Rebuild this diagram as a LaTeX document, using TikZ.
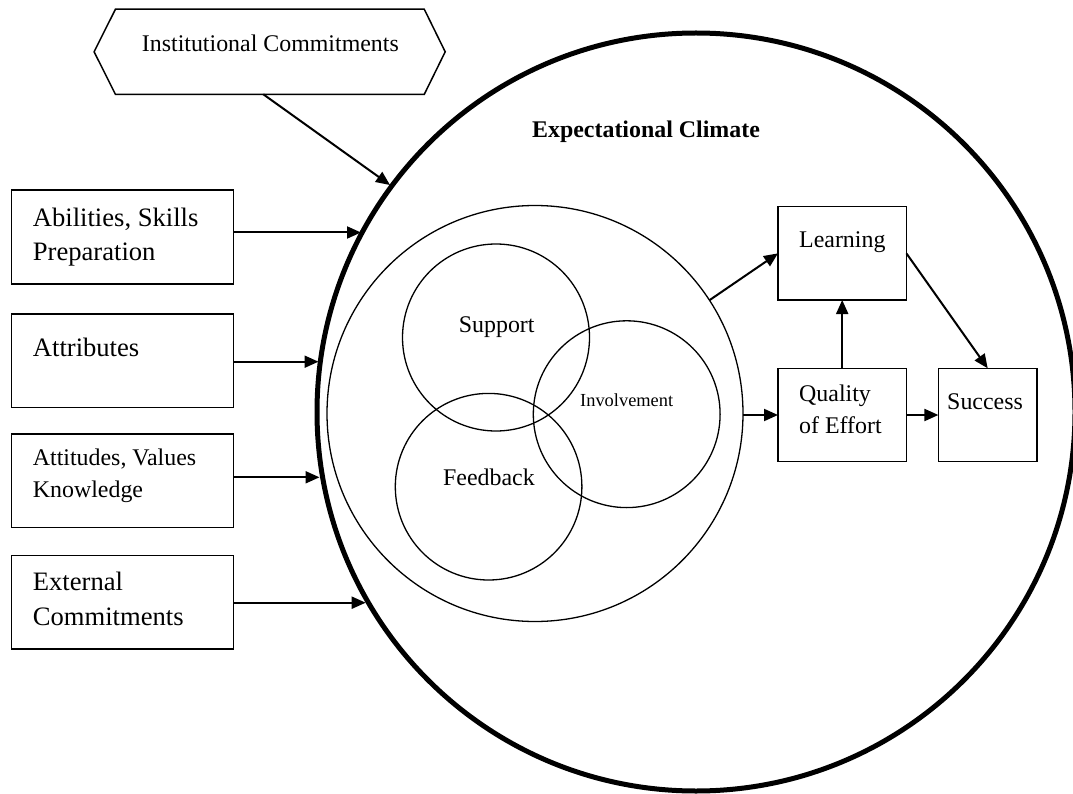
\documentclass[tikz,border=0pt]{standalone}
\usepackage{fontspec}
\setmainfont{Liberation Serif}
\usetikzlibrary{arrows.meta,calc,fit}
\begin{document}
\begin{tikzpicture}[x=1pt,y=-1pt,
  box/.style={draw, line width=1.5pt, inner sep=0pt, outer sep=0pt},
  ring/.style={draw, circle, line width=1.3pt, inner sep=0pt, outer sep=0pt},
  txt/.style={inner sep=0pt, anchor=base west, font=\fontsize{23.9}{30}\selectfont},
  txtL/.style={txt, font=\fontsize{26.6}{34}\selectfont},
  txtS/.style={txt, font=\fontsize{18.4}{22}\selectfont},
  arr/.style={line width=2pt, -{Triangle[length=14pt,width=12pt]}}]
\useasboundingbox (0,0) rectangle (1073,794);
\fill[white] (0,0) rectangle (1073,794);

% big circle
\node[draw, circle, line width=5pt, minimum size=758pt, inner sep=0pt, outer sep=0pt] (big) at (696,412) {};
% inner circle
\node[ring, minimum size=416pt] (inner) at (535,413.5) {};
\node[ring, minimum size=187pt] (supp) at (496,337.5) {};
\node[ring, minimum size=186.6pt] (feed) at (488.6,486.7) {};
\node[ring, minimum size=186.8pt] (inv) at (626.7,414.2) {};

% hexagon
\node[inner sep=0pt, fit={(94.3,9.3) (445,94.3)}] (inst) {};
\draw[line width=1.5pt] (inst.west) -- ($(inst.north west)+(21.4,0)$) -- ($(inst.north east)+(-21,0)$)
  -- (inst.east) -- ($(inst.south east)+(-21,0)$) -- ($(inst.south west)+(21.4,0)$) -- cycle;

% boxes
\node[box, fit={(11.7,190) (233.3,284)}] (abil) {};
\node[box, fit={(11.7,314) (233.3,407.7)}] (attr) {};
\node[box, fit={(11.7,434) (233.3,527.3)}] (atti) {};
\node[box, fit={(11.7,555.3) (233.3,649)}] (ext) {};
\node[box, fit={(778,206.7) (906.4,300)}] (learn) {};
\node[box, fit={(778,368.3) (906.4,461.7)}] (qual) {};
\node[box, fit={(938.4,368.3) (1037,461.7)}] (succ) {};

% texts
\node[txt] (tI) at (141.7,51.7) {Institutional Commitments};
\node[txtL] (tA1) at (32.7,226.7) {Abilities, Skills};
\node[txtL] (tA2) at (32.7,260.5) {Preparation};
\node[txtL] (tB1) at (32.7,356) {Attributes};
\node[txt] (tC1) at (32.7,465.7) {Attitudes, Values};
\node[txt] (tC2) at (32.7,497.3) {Knowledge};
\node[txtL] (tD1) at (32.7,590.7) {External};
\node[txtL] (tD2) at (32.7,625.7) {Commitments};
\node[txt, font=\fontsize{23.9}{30}\selectfont\bfseries] (tE) at (532,137.3) {Expectational Climate};
\node[txt] (tL) at (799,247.3) {Learning};
\node[txt] (tQ1) at (799,401.7) {Quality};
\node[txt] (tQ2) at (799,433.3) {of Effort};
\node[txt] (tS) at (947,409.3) {Success};
\node[txt] (tSu) at (458.7,332.3) {Support};
\node[txt] (tF) at (443,485) {Feedback};
\node[txtS] (tIn) at (580,406.7) {Involvement};

% arrow end points on the big circle
\coordinate (instout) at (263.3,94.3);
\coordinate (tInst) at (390,185);
\coordinate (tAbil) at (361,232.5);
\coordinate (tAttr) at (318.5,361.7);
\coordinate (tAtti) at (319.5,477.3);
\coordinate (tExt) at (365.7,602.7);

\draw[arr] (instout) -- (tInst);
\draw[arr] (abil.east |- tAbil) -- (tAbil);
\draw[arr] (attr.east |- tAttr) -- (tAttr);
\draw[arr] (atti.east |- tAtti) -- (tAtti);
\draw[arr] (ext.east |- tExt) -- (tExt);

\draw[arr] (inner.33) -- (learn.west);
\draw[arr] (inner.east |- qual.west) -- (qual.west);
\draw[arr] (qual.north) -- (learn.south);
\draw[arr] (qual.east) -- (succ.west);
\draw[arr] (learn.east) -- (succ.north);
\end{tikzpicture}
\end{document}
